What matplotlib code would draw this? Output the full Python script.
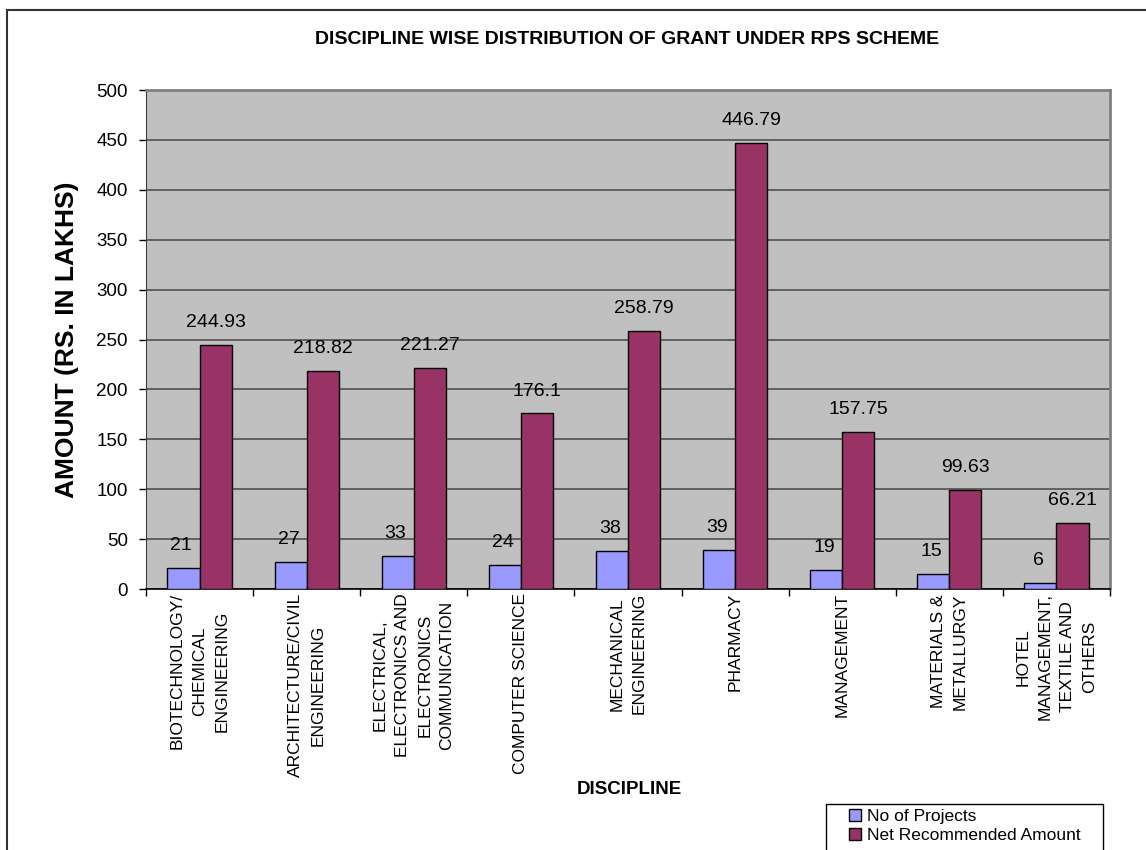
import matplotlib.pyplot as plt
import numpy as np
from matplotlib.legend_handler import HandlerPatch
from matplotlib.patches import Patch, Rectangle

plt.rcParams['font.family'] = ['Liberation Sans', 'DejaVu Sans']

disciplines = ['BIOTECHNOLOGY/\nCHEMICAL\nENGINEERING',
               'ARCHITECTURE/CIVIL\nENGINEERING',
               'ELECTRICAL,\nELECTRONICS AND\nELECTRONICS\nCOMMUNICATION',
               'COMPUTER SCIENCE',
               'MECHANICAL\nENGINEERING',
               'PHARMACY',
               'MANAGEMENT',
               'MATERIALS &\nMETALLURGY',
               'HOTEL\nMANAGEMENT,\nTEXTILE AND\nOTHERS']
projects = [21, 27, 33, 24, 38, 39, 19, 15, 6]
amounts = [244.93, 218.82, 221.27, 176.1, 258.79, 446.79, 157.75, 99.63, 66.21]
amount_labels = ['244.93', '218.82', '221.27', '176.1', '258.79', '446.79', '157.75', '99.63', '66.21']


def main():
    fig = plt.figure(figsize=(11.46, 8.5), dpi=100)
    # outer chart border (runs off the right and bottom edges)
    fig.patches.append(Rectangle((7 / 1146, -0.1), 1.1, 1 - 10 / 850 + 0.1,
                                 transform=fig.transFigure, fill=False,
                                 edgecolor='#333333', linewidth=1.5))
    ax = fig.add_axes([146 / 1146, 1 - 589 / 850, 964 / 1146, 499 / 850])
    ax.set_facecolor('#C0C0C0')

    x = np.arange(len(disciplines))
    w = 0.3
    b1 = ax.bar(x - w / 2, projects, w, color='#9999FF', edgecolor='black',
                linewidth=1, zorder=3)
    b2 = ax.bar(x + w / 2, amounts, w, color='#993366', edgecolor='black',
                linewidth=1, zorder=3)
    for rect, v in zip(b1, projects):
        ax.annotate(str(v), (rect.get_x() + rect.get_width() / 2 - 0.02, rect.get_height()),
                    xytext=(0, 16), textcoords='offset points', ha='center', va='center',
                    fontsize=14)
    for rect, s in zip(b2, amount_labels):
        ax.annotate(s, (rect.get_x() + rect.get_width() / 2, rect.get_height()),
                    xytext=(0, 16), textcoords='offset points', ha='center', va='center',
                    fontsize=14)

    ax.set_ylim(0, 500)
    ax.set_xlim(-0.5, len(disciplines) - 0.5)
    ax.set_yticks(range(0, 501, 50))
    ax.tick_params(axis='y', labelsize=13.5, length=5, width=1, pad=8)
    ax.yaxis.grid(True, color='#505050', linewidth=1.2, zorder=0)
    ax.set_axisbelow(True)

    ax.set_xticks(np.arange(-0.5, len(disciplines), 1))
    ax.set_xticklabels([])
    ax.tick_params(axis='x', which='major', length=5, width=1)
    ax.set_xticks(x, minor=True)
    ax.set_xticklabels(disciplines, minor=True, rotation=90, ha='center', va='top',
                       multialignment='center', fontsize=12.5, linespacing=1.6)
    ax.tick_params(axis='x', which='minor', length=0, pad=3)

    for side in ['top', 'right']:
        ax.spines[side].set_color('#808080')
        ax.spines[side].set_linewidth(2)
    ax.spines['left'].set_color('#404040')
    ax.spines['bottom'].set_color('black')
    ax.spines['bottom'].set_linewidth(1.2)

    fig.text(627 / 1146, 1 - 40 / 850, 'DISCIPLINE WISE DISTRIBUTION OF GRANT UNDER RPS SCHEME',
             ha='center', va='center', fontsize=14, fontweight='bold')
    fig.text(67 / 1146, 1 - 340 / 850, 'AMOUNT (RS. IN LAKHS)', rotation=90,
             ha='center', va='center', fontsize=19, fontweight='bold')
    fig.text(629 / 1146, 1 - 789 / 850, 'DISCIPLINE', ha='center', va='center',
             fontsize=13.5, fontweight='bold')

    # legend box, cut off by the bottom edge
    fig.patches.append(Rectangle((826 / 1146, -0.05), 277 / 1146, 0.05 + 1 - 804 / 850,
                                 transform=fig.transFigure, fill=False,
                                 edgecolor='black', linewidth=1))
    handles = [Patch(facecolor='#9999FF', edgecolor='black', label='No of Projects'),
               Patch(facecolor='#993366', edgecolor='black', label='Net Recommended Amount')]
    fs = 12.5
    fig.legend(handles=handles, loc='upper left',
               bbox_to_anchor=(826 / 1146, 1 - 804 / 850), fontsize=fs, frameon=False,
               handlelength=1.72, handleheight=0.7, handletextpad=0.35,
               borderpad=0.3, labelspacing=0.22, borderaxespad=0,
               handler_map={Patch: HandlerPatch(xpad=1.03)})

    fig.savefig('out.png', dpi=100)


if __name__ == '__main__':
    main()
